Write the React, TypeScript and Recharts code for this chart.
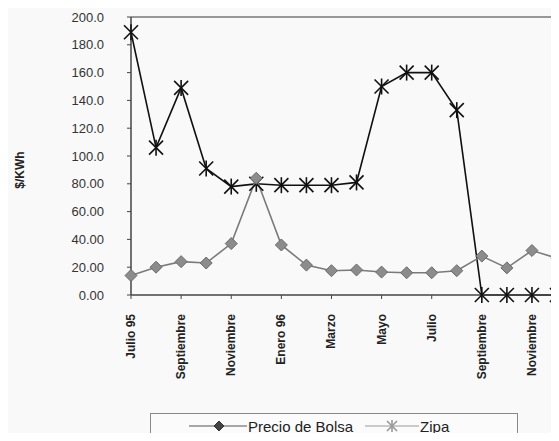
import React from "react";
import {
  LineChart,
  Line,
  XAxis,
  YAxis,
  Legend,
  ReferenceLine,
} from "recharts";

const meses = [
  "Julio 95", "Agosto", "Septiembre", "Octubre", "Noviembre", "Diciembre",
  "Enero 96", "Febrero", "Marzo", "Abril", "Mayo", "Junio",
  "Julio", "Agosto", "Septiembre", "Octubre", "Noviembre", "Diciembre",
];
const precioBolsa = [14, 20, 24, 23, 37, 84, 36, 21.5, 17.5, 18, 16.5, 16, 16, 17.5, 28, 19.5, 32, 26.5];
const zipa = [189, 106, 149, 91, 78, 80, 79, 79, 79, 81, 150, 160, 160, 133, 0, 0, 0, 0];
const yTicks = [0, 20, 40, 60, 80, 100, 120, 140, 160, 180, 200];

// índice de cada mes, para el eje numérico (evita categorías duplicadas)
const data = meses.map((m, i) => ({ idx: i, mes: m, precio: precioBolsa[i], zipa: zipa[i] }));
const xTicks = meses.map((_, i) => i).filter((i) => i % 2 === 0);

const FONT = "'Liberation Sans', Arial, sans-serif";

const fmtY = (v: number) => (v >= 100 ? v.toFixed(1) : v.toFixed(2));

// asterisco estilo Excel
const Asterisco = (props: any) => {
  const { cx, cy, size = 7, color = "#111" } = props;
  if (cx == null || cy == null) return null;
  const s = size;
  return (
    <g stroke={color} strokeWidth={1.6}>
      <line x1={cx - s} y1={cy - s} x2={cx + s} y2={cy + s} />
      <line x1={cx - s} y1={cy + s} x2={cx + s} y2={cy - s} />
      <line x1={cx} y1={cy - s - 1} x2={cx} y2={cy + s + 1} />
    </g>
  );
};

const Rombo = (props: any) => {
  const { cx, cy, size = 6, relleno = "#8c8c8c", borde = "#6a6a6a" } = props;
  if (cx == null || cy == null) return null;
  const s = size;
  return (
    <polygon
      points={`${cx},${cy - s} ${cx + s},${cy} ${cx},${cy + s} ${cx - s},${cy}`}
      fill={relleno}
      stroke={borde}
      strokeWidth={1}
    />
  );
};

const MesTick = (props: any) => {
  const { x, y, payload } = props;
  return (
    <text
      transform={`translate(${x},${y + 13}) rotate(-90)`}
      textAnchor="end"
      dominantBaseline="central"
      fontSize={12}
      fontWeight="bold"
      fontFamily={FONT}
      fill="#222"
    >
      {meses[payload.value]}
    </text>
  );
};

const EtiquetaY = () => (
  <text
    transform="translate(20,170) rotate(-90)"
    textAnchor="middle"
    dominantBaseline="central"
    fontSize={12}
    fontWeight="bold"
    fontFamily={FONT}
    fill="#222"
  >
    $/KWh
  </text>
);

const Leyenda = () => (
  <div
    style={{
      border: "1px solid #888",
      boxSizing: "border-box",
      width: 368,
      height: 40,
      paddingLeft: 38,
      paddingBottom: 14,
      display: "flex",
      alignItems: "center",
      fontFamily: FONT,
      fontSize: 15,
      color: "#222",
      background: "#fbfbfb",
    }}
  >
    <svg width={58} height={14} style={{ marginRight: 1 }}>
      <line x1={0} y1={7} x2={58} y2={7} stroke="#555" strokeWidth={1.2} />
      <Rombo cx={30} cy={7} size={5} relleno="#444" borde="#333" />
    </svg>
    <span style={{ marginRight: 12 }}>Precio de Bolsa</span>
    <svg width={54} height={14} style={{ marginRight: 1 }}>
      <line x1={0} y1={7} x2={54} y2={7} stroke="#999" strokeWidth={1.2} />
      <Asterisco cx={27} cy={7} size={5} color="#999" />
    </svg>
    <span>Zipa</span>
  </div>
);

export default function App() {
  return (
    <div style={{ margin: -8, width: 559, height: 441, background: "#f9f9f9", position: "relative", overflow: "hidden" }}>
      <LineChart
        width={559}
        height={441}
        data={data}
        margin={{ top: 17, right: 2, bottom: 0, left: 0 }}
        style={{ fontFamily: FONT }}
      >
        {/* marco superior y derecho */}
        <ReferenceLine y={200} stroke="#777" strokeWidth={1.5} ifOverflow="visible" />
        <ReferenceLine x={meses.length - 1} stroke="#777" strokeWidth={1.5} ifOverflow="visible" />
        <XAxis
          dataKey="idx"
          type="number"
          domain={[0, meses.length - 1]}
          ticks={xTicks}
          interval={0}
          height={146}
          tick={<MesTick />}
          tickLine={{ stroke: "#444" }}
          tickSize={4}
          axisLine={{ stroke: "#444", strokeWidth: 1.5 }}
        />
        <YAxis
          domain={[0, 200]}
          ticks={yTicks}
          width={131}
          tickFormatter={fmtY}
          tickSize={4}
          tickMargin={23}
          tick={{ fontSize: 13, fill: "#333", fontFamily: FONT }}
          tickLine={{ stroke: "#444" }}
          axisLine={{ stroke: "#444", strokeWidth: 1.5 }}
          label={{ content: <EtiquetaY /> }}
        />
        <Line
          type="linear"
          dataKey="zipa"
          name="Zipa"
          stroke="#111"
          strokeWidth={1.6}
          dot={<Asterisco />}
          isAnimationActive={false}
        />
        <Line
          type="linear"
          dataKey="precio"
          name="Precio de Bolsa"
          stroke="#7a7a7a"
          strokeWidth={1.6}
          dot={<Rombo />}
          isAnimationActive={false}
        />
        <Legend
          layout="vertical"
          align="center"
          verticalAlign="middle"
          content={<Leyenda />}
          wrapperStyle={{ position: "absolute", left: 150, top: 413, width: 368, height: 40 }}
        />
      </LineChart>
    </div>
  );
}
